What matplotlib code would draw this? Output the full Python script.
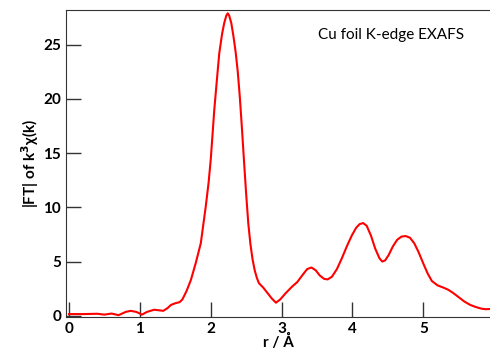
import numpy as np
import matplotlib.pyplot as plt

# |FT| of k^3 chi(k) for Cu foil
r = [0.0, 0.2, 0.4, 0.5, 0.6, 0.7, 0.8, 0.87, 0.95, 1.03, 1.1, 1.2, 1.27, 1.33,
     1.39, 1.44, 1.5, 1.56, 1.6, 1.66, 1.72, 1.79, 1.86, 1.93, 1.97, 2.0, 2.05,
     2.09, 2.12, 2.16, 2.19, 2.22, 2.24, 2.26, 2.29, 2.32, 2.35, 2.38, 2.41,
     2.44, 2.47, 2.5, 2.53, 2.56, 2.59, 2.62, 2.65, 2.68, 2.74, 2.8, 2.86,
     2.92, 2.98, 3.06, 3.15,
     3.22, 3.3, 3.36, 3.42, 3.48, 3.54, 3.6, 3.65, 3.71, 3.78, 3.85, 3.92,
     3.99, 4.05, 4.1, 4.15, 4.2, 4.26, 4.32, 4.38, 4.42, 4.46, 4.51, 4.57,
     4.63, 4.69, 4.75, 4.81, 4.87, 4.93, 5.0, 5.06, 5.12, 5.2, 5.28, 5.35,
     5.42, 5.5, 5.58, 5.66, 5.74, 5.82, 5.88, 5.95]
ft = [0.15, 0.15, 0.18, 0.1, 0.2, 0.05, 0.35, 0.45, 0.35, 0.1, 0.35, 0.55, 0.5,
      0.45, 0.7, 1.0, 1.15, 1.25, 1.5, 2.3, 3.3, 4.9, 6.7, 10.1, 12.3, 14.4, 19.0,
      22.0, 24.2, 26.0, 27.0, 27.7, 27.9, 27.7, 27.0, 25.8, 24.4, 22.6, 20.2,
      17.3, 14.2, 11.2, 8.5, 6.6, 5.2, 4.2, 3.5, 3.0, 2.6, 2.1, 1.6,
      1.2, 1.5, 2.1, 2.7,
      3.1, 3.8, 4.3, 4.45, 4.2, 3.7, 3.4, 3.35, 3.6, 4.3, 5.3, 6.4,
      7.4, 8.1, 8.45, 8.55, 8.3, 7.4, 6.2, 5.3, 5.0, 5.1, 5.6, 6.4,
      7.0, 7.3, 7.35, 7.2, 6.7, 5.9, 4.8, 3.9, 3.2, 2.8, 2.6, 2.4,
      2.1, 1.7, 1.3, 1.0, 0.8, 0.65, 0.6, 0.62]

xticks = [0, 1, 2, 3, 4, 5]
yticks = [0, 5, 10, 15, 20, 25]

plt.rcParams['font.family'] = ['Lato', 'DejaVu Sans']

fig = plt.figure(figsize=(4.9, 3.6), dpi=100)
ax = fig.add_axes([0.135, 0.12, 0.865, 0.852])

ax.plot(r, ft, color='red', lw=1.5)

ax.set_xlim(-0.04, 5.94)
ax.set_ylim(-0.1, 28.2)
ax.set_xticks(xticks)
ax.set_yticks(yticks)
ax.tick_params(direction='in', length=11, width=1, colors='#333333',
               labelcolor='black', labelsize=11)
for lab in ax.get_xticklabels() + ax.get_yticklabels():
    lab.set_fontweight('bold')

ax.spines['right'].set_visible(False)
for s in ['left', 'top', 'bottom']:
    ax.spines[s].set_color('#333333')

ax.set_xlabel('r / Å', fontsize=11, fontweight='bold', labelpad=-1)
ax.set_ylabel(r'|FT| of k$^{\mathbf{3}}$χ(k)', fontsize=11, fontweight='bold', labelpad=2)

ax.text(0.94, 0.92, 'Cu foil K-edge EXAFS', transform=ax.transAxes,
        ha='right', va='center', fontsize=11)

fig.savefig('out.png', dpi=100)
